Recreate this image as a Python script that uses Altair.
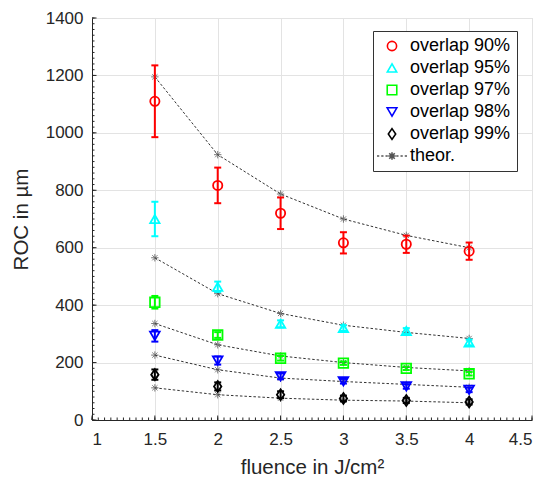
import altair as alt
import numpy as np
import pandas as pd

# Measured ROC (mean and error) per pulse overlap, versus fluence
fluence = [1.5, 2.0, 2.5, 3.0, 3.5, 4.0]

roc_90 = [1110, 817, 720, 617, 612, 588]
err_90 = [125, 62, 55, 37, 30, 30]
roc_95 = [700, 464, 335, 320, 310, 270]
err_95 = [60, 18, 12, 10, 10, 10]
roc_97 = [410, 296, 215, 198, 180, 161]
err_97 = [22, 10, 8, 6, 6, 6]
roc_98 = [293, 207, 152, 135, 117, 105]
err_98 = [20, 14, 10, 8, 8, 8]
roc_99 = [158, 117, 88, 75, 68, 63]
err_99 = [18, 14, 12, 10, 9, 9]

# Theoretical curves for each overlap
theor_90 = [1195, 924, 787, 700, 643, 600]
theor_95 = [565, 440, 371, 330, 305, 284]
theor_97 = [336, 262, 223, 200, 183, 171]
theor_98 = [226, 175, 146, 134, 124, 114]
theor_99 = [112, 88, 76, 69, 66, 60]

labels = ["overlap 90%", "overlap 95%", "overlap 97%", "overlap 98%", "overlap 99%", "theor."]
colors = ["#ff0000", "#00ffff", "#00ff00", "#0000ff", "#000000", "#555555"]

x_ticks = [1, 1.5, 2, 2.5, 3, 3.5, 4, 4.5]
y_ticks = [0, 200, 400, 600, 800, 1000, 1200, 1400]

FONT = "Liberation Sans"
W, H = 440, 402

# marker shapes (tall narrow diamond; asterisk for the theory points)
diamond = "M0,-1.1L0.75,0L0,1.1L-0.75,0Z"
asterisk = "M-1,0H1M0,-1V1M-0.7,-0.7L0.7,0.7M-0.7,0.7L0.7,-0.7"
theor_key = ("M-3,0H-2.55M-2.15,0H-1.7M-1.3,0H-0.85M0.85,0H1.3M1.7,0H2.15M2.55,0H3"
             "M-0.75,0H0.75M0,-0.75V0.75M-0.55,-0.55L0.55,0.55M-0.55,0.55L0.55,-0.55")
shapes = ["circle", "triangle-up", "square", "triangle-down", diamond, theor_key]
sizes = [85, 100, 45, 100, 80, 60]

rows = []
for lab, vals, errs in zip(labels[:5],
                           [roc_90, roc_95, roc_97, roc_98, roc_99],
                           [err_90, err_95, err_97, err_98, err_99]):
    for f, v, e in zip(fluence, vals, errs):
        rows.append({"fluence": f, "roc": v, "lo": v - e, "hi": v + e, "series": lab})
meas = pd.DataFrame(rows)

trows = []
for k, vals in enumerate([theor_90, theor_95, theor_97, theor_98, theor_99]):
    for f, v in zip(fluence, vals):
        trows.append({"fluence": f, "roc": v, "curve": k})
theor = pd.DataFrame(trows)

x_scale = alt.Scale(domain=[1, 4.5], nice=False, zero=False)
y_scale = alt.Scale(domain=[0, 1400], nice=False)
color_scale = alt.Scale(domain=labels, range=colors)
shape_scale = alt.Scale(domain=labels, range=shapes)
size_scale = alt.Scale(domain=labels, range=sizes)

x_axis = alt.Axis(values=x_ticks, format="~g", grid=True, ticks=False,
                  labelPadding=11, titlePadding=10, title="fluence in J/cm²")
y_axis = alt.Axis(values=y_ticks, format="d", grid=True, ticks=False,
                  labelPadding=9, titlePadding=14, title="ROC in µm")
legend = alt.Legend(
    title=None, orient="none", legendX=281, legendY=13,
    padding=6, strokeColor="#333333", fillColor="white",
    labelFont=FONT, labelFontSize=18, labelColor="#000000", labelLimit=300,
    symbolSize=80, symbolStrokeWidth=1.6, symbolFillColor="transparent",
    symbolOffset=4, labelOffset=9, rowPadding=4)


def X(field):
    return alt.X(field, scale=x_scale, axis=x_axis)


def Y(field):
    return alt.Y(field, scale=y_scale, axis=y_axis)


def C():
    return alt.Color("series:N", scale=color_scale, legend=legend)


# theory curves: dotted line with asterisk markers
theor_line = alt.Chart(theor).mark_line(
    color="#333333", strokeWidth=1, strokeDash=[2.5, 2]
).encode(x=X("fluence:Q"), y=Y("roc:Q"), detail="curve:N")
theor_pts = alt.Chart(theor).mark_point(
    shape=asterisk, color="#444444", strokeWidth=1, size=55, filled=False
).encode(x=X("fluence:Q"), y=Y("roc:Q"))

# error bars with caps (all stroked rules)
bars = alt.Chart(meas).mark_rule(strokeWidth=2).encode(
    x=X("fluence:Q"), y=Y("lo:Q"), y2="hi:Q", color=C())
cap_lo = alt.Chart(meas).mark_rule(strokeWidth=2, xOffset=-3.5, x2Offset=3.5).encode(
    x=X("fluence:Q"), x2="fluence:Q", y=Y("lo:Q"), color=C())
cap_hi = alt.Chart(meas).mark_rule(strokeWidth=2, xOffset=-3.5, x2Offset=3.5).encode(
    x=X("fluence:Q"), x2="fluence:Q", y=Y("hi:Q"), color=C())

# measured points
points = alt.Chart(meas).mark_point(filled=False, strokeWidth=1.8, opacity=1).encode(
    x=X("fluence:Q"), y=Y("roc:Q"), color=C(),
    shape=alt.Shape("series:N", scale=shape_scale, legend=legend),
    size=alt.Size("series:N", scale=size_scale, legend=None),
)

# inward major / minor ticks along the left and bottom axes
y_minor = pd.DataFrame({"v": np.arange(0, 1401, 20)})
x_minor = pd.DataFrame({"v": np.round(np.arange(1, 4.5001, 0.05), 2)})
y_major = pd.DataFrame({"v": y_ticks})
x_major = pd.DataFrame({"v": x_ticks})
tick_color = "#262626"


def left_ticks(df, length):
    return alt.Chart(df).mark_rule(color=tick_color, strokeWidth=1).encode(
        y=Y("v:Q"), x=alt.value(0), x2=alt.value(length))


def bottom_ticks(df, length):
    return alt.Chart(df).mark_rule(color=tick_color, strokeWidth=1).encode(
        x=X("v:Q"), y=alt.value(H), y2=alt.value(H - length))


chart = alt.layer(
    theor_line, theor_pts, bars, cap_lo, cap_hi, points,
    left_ticks(y_minor, 2.5), left_ticks(y_major, 4.5),
    bottom_ticks(x_minor, 2.5), bottom_ticks(x_major, 4.5),
).properties(
    width=W, height=H, background="white",
    autosize=alt.AutoSizeParams(type="none"),
    padding={"left": 92, "top": 18, "right": 17, "bottom": 59},
).configure_view(
    stroke="#d6d6d6", strokeWidth=1,
).configure_axis(
    labelFont=FONT, labelFontSize=17, labelColor="#262626",
    titleFont=FONT, titleFontSize=20.5, titleColor="#262626", titleFontWeight="normal",
    gridColor="#e3e3e3", gridWidth=1,
    domainColor="#262626", domainWidth=1,
)

chart.save("out.html", embed_options={"renderer": "svg", "actions": False})
